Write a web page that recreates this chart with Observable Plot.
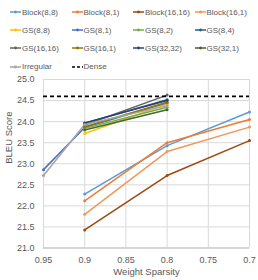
<!DOCTYPE html>
<html>
<head>
<meta charset="utf-8">
<script src="https://cdn.jsdelivr.net/npm/d3@7"></script>
<script src="https://cdn.jsdelivr.net/npm/@observablehq/plot@0.6"></script>
<style>
  html, body { margin: 0; padding: 0; background: #fff; }
  body { width: 258px; height: 280px; overflow: hidden; font-family: "Liberation Sans", Arial, sans-serif; }
  #legend { position: relative; height: 74px; }
  .item { position: absolute; display: flex; align-items: center; font-size: 8px; color: #595959; white-space: nowrap; }
  .item svg { display: block; margin-right: 1px; }
</style>
</head>
<body>
<div id="legend"></div>
<div id="chart"></div>
<script>
// ---- data ----
const seriesNames = ["Block(8,8)", "Block(8,1)", "Block(16,16)", "Block(16,1)",
  "GS(8,8)", "GS(8,1)", "GS(8,2)", "GS(8,4)",
  "GS(16,16)", "GS(16,1)", "GS(32,32)", "GS(32,1)",
  "Irregular"];
const seriesColors = ["#5B9BD5", "#ED7D31", "#9E480E", "#F1975A",
  "#FFC000", "#4472C4", "#70AD47", "#255E91",
  "#636363", "#997300", "#264478", "#43682B",
  "#A5A5A5"];

const blockSparsity = [0.9, 0.8, 0.7];
const gsSparsity = [0.9, 0.8];
const gsSparsityWide = [0.95, 0.9, 0.8];

const block_8_8   = [22.28, 23.43, 24.23];
const block_8_1   = [22.12, 23.50, 24.05];
const block_16_16 = [21.43, 22.72, 23.55];
const block_16_1  = [21.80, 23.29, 23.87];
const gs_8_8   = [23.72, 24.42];
const gs_8_1   = [22.86, 23.86, 24.45];
const gs_8_2   = [23.84, 24.34];
const gs_8_4   = [23.96, 24.52];
const gs_16_16 = [23.92, 24.63];
const gs_16_1  = [23.88, 24.46];
const gs_32_32 = [23.97, 24.50];
const gs_32_1  = [23.80, 24.28];
const irregular = [22.72, 23.93, 24.38];
const denseScore = 24.6;

const xTicks = [0.95, 0.9, 0.85, 0.8, 0.75, 0.7];
const yTicks = [21.0, 21.5, 22.0, 22.5, 23.0, 23.5, 24.0, 24.5, 25.0];

// ---- build table ----
const seriesValues = [
  [block_8_8, blockSparsity], [block_8_1, blockSparsity], [block_16_16, blockSparsity], [block_16_1, blockSparsity],
  [gs_8_8, gsSparsity], [gs_8_1, gsSparsityWide], [gs_8_2, gsSparsity], [gs_8_4, gsSparsity],
  [gs_16_16, gsSparsity], [gs_16_1, gsSparsity], [gs_32_32, gsSparsity], [gs_32_1, gsSparsity],
  [irregular, gsSparsityWide]
];
const rows = [];
seriesValues.forEach(([vals, xs], i) => {
  vals.forEach((v, j) => rows.push({series: seriesNames[i], order: i, sparsity: xs[j], score: v}));
});

// ---- legend ----
const legend = document.getElementById("legend");
const legendEntries = seriesNames.map((n, i) => ({name: n, color: seriesColors[i], dash: false}))
  .concat([{name: "Dense", color: "#000", dash: true}]);
legendEntries.forEach((e, i) => {
  const col = i % 4, row = Math.floor(i / 4);
  const div = document.createElement("div");
  div.className = "item";
  div.style.left = (10 + col * 61.5) + "px";
  div.style.top = (7 + row * 18.2) + "px";
  div.style.height = "10px";
  const sw = e.dash
    ? `<svg width="11" height="10"><line x1="0" y1="5" x2="11" y2="5" stroke="#000" stroke-width="1.5" stroke-dasharray="3,2"/></svg>`
    : `<svg width="11" height="10"><line x1="0" y1="5" x2="11" y2="5" stroke="${e.color}" stroke-width="1.5"/><circle cx="5.5" cy="5" r="1.4" fill="${e.color}"/></svg>`;
  div.innerHTML = sw + `<span>${e.name}</span>`;
  legend.appendChild(div);
});

// ---- chart ----
const chart = Plot.plot({
  width: 258,
  height: 206,
  marginTop: 5,
  marginBottom: 32.5,
  marginLeft: 43,
  marginRight: 9,
  style: {fontFamily: "Liberation Sans, Arial, sans-serif", fontSize: "9px", color: "#595959", background: "#fff"},
  x: {domain: [0.95, 0.7], ticks: xTicks, tickFormat: d => String(d), label: null},
  y: {domain: [21, 25], ticks: yTicks, tickFormat: d3.format(".1f"), label: null},
  color: {domain: seriesNames, range: seriesColors},
  marks: [
    Plot.gridX(xTicks, {stroke: "#D9D9D9", strokeOpacity: 1, strokeWidth: 1}),
    Plot.gridY(yTicks, {stroke: "#D9D9D9", strokeOpacity: 1, strokeWidth: 1}),
    Plot.ruleY([21], {stroke: "#BFBFBF", strokeWidth: 1}),
    Plot.axisX(xTicks, {tickSize: 0, tickPadding: 9, fill: "#595959", fontSize: 9, tickFormat: d => String(d)}),
    Plot.axisY(yTicks, {tickSize: 0, tickPadding: 9, fill: "#595959", fontSize: 9, tickFormat: d3.format(".1f")}),
    Plot.text(["Weight Sparsity"], {frameAnchor: "bottom", dy: 27, fill: "#595959", fontSize: 9.5}),
    Plot.text(["BLEU Score"], {frameAnchor: "left", dx: -35, rotate: -90, fill: "#595959", fontSize: 9.5}),
    Plot.line(rows, {x: "sparsity", y: "score", z: "series", stroke: "series", strokeWidth: 1.5}),
    Plot.dot(rows, {x: "sparsity", y: "score", fill: "series", r: 1.5}),
    Plot.ruleY([denseScore], {stroke: "#000", strokeWidth: 1.8, strokeDasharray: "4,3"})
  ]
});
document.getElementById("chart").appendChild(chart);
</script>
</body>
</html>
